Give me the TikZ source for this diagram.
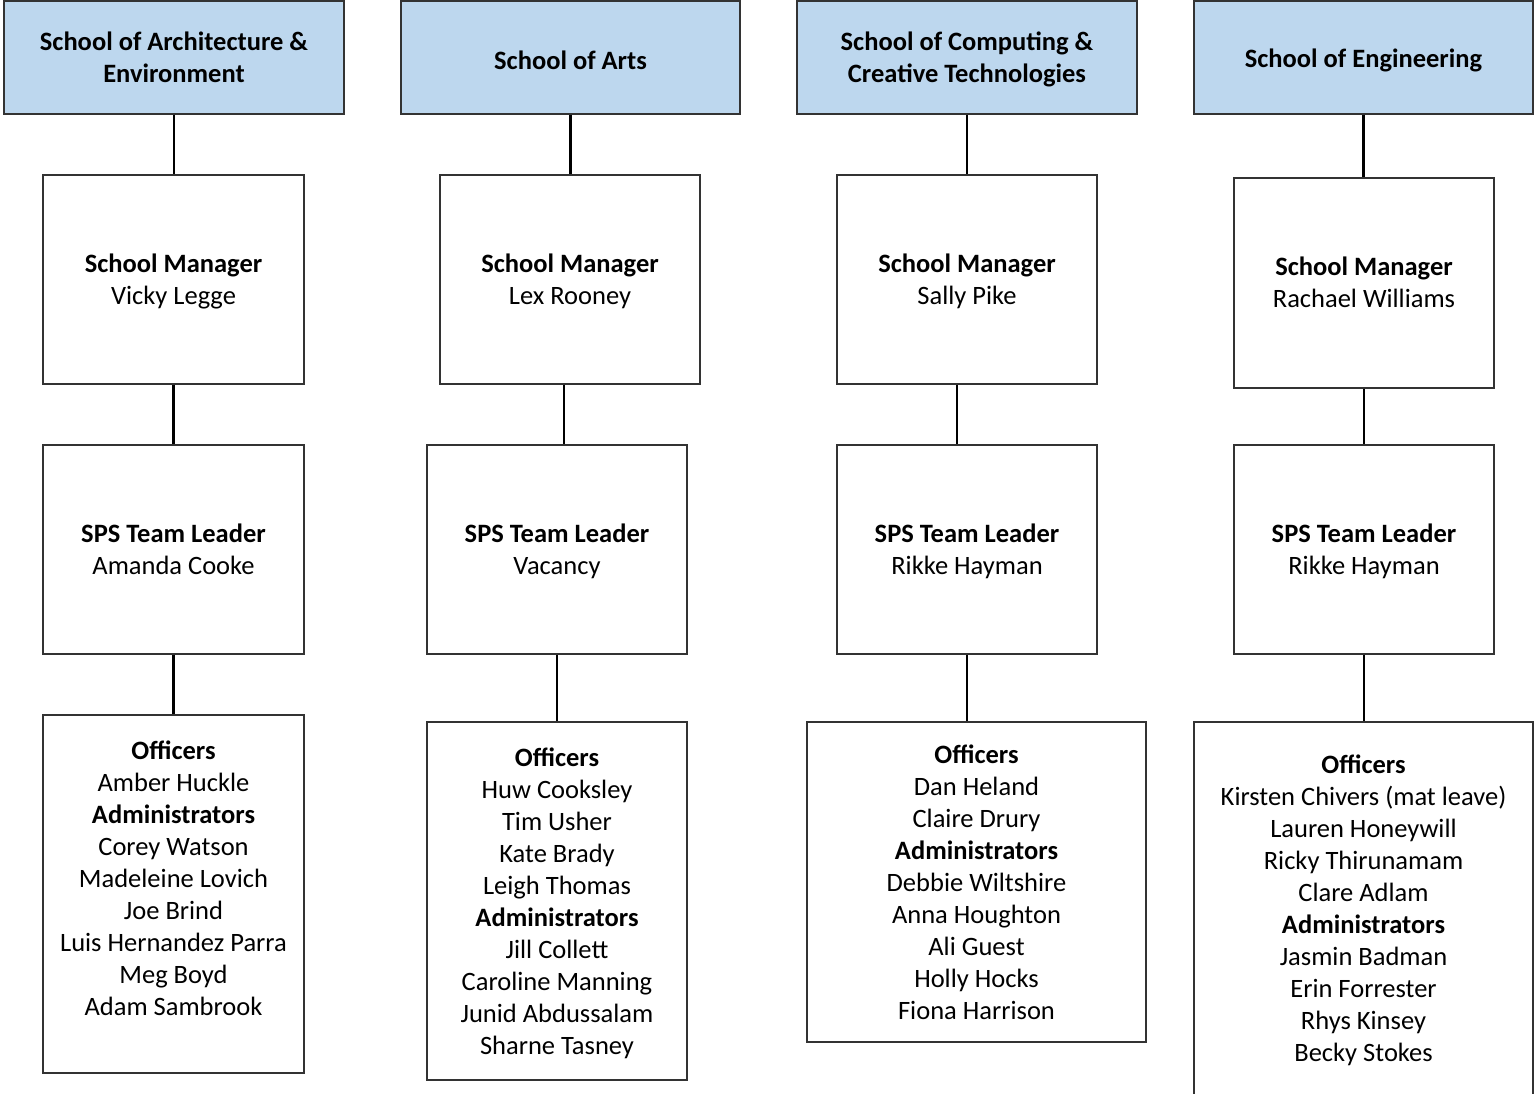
\documentclass[tikz,border=0pt]{standalone}
\usepackage{fontspec}
\setmainfont{Carlito}
\newcommand{\stackl}[1]{\begin{tabular}{@{}c@{}}#1\end{tabular}}
\definecolor{hdrblue}{HTML}{BDD7EE}
\definecolor{edge}{HTML}{333333}
\begin{document}
\begin{tikzpicture}[x=1pt,y=-1pt,
  box/.style={draw=edge, line width=1.3pt, fill=white, inner sep=0pt},
  hdr/.style={box, fill=hdrblue, minimum width=340, minimum height=113},
  mid/.style={box, minimum width=261, minimum height=209},
  txt/.style={inner sep=0pt, yshift=-1.5pt, font=\fontsize{26.5}{32}\selectfont},
  link/.style={draw=black, line width=2.8pt}]
\clip (0,0) rectangle (1534,1094);
\fill[white] (0,0) rectangle (1534,1094);

% ---- School of Architecture & Environment
\node[hdr] (h1) at (174,57.5) {};
\node[txt] (h1t) at (174,59) {\bfseries\stackl{School of Architecture \&\\Environment}};
\node[mid] (sm1) at (173.5,279.5) {};
\node[txt] (sm1t) at (173.5,281) {\stackl{\bfseries School Manager\\Vicky Legge}};
\node[mid] (sps1) at (173.5,549.5) {};
\node[txt] (sps1t) at (173.5,551) {\stackl{\bfseries SPS Team Leader\\Amanda Cooke}};
\node[box, minimum width=261, minimum height=358] (off1) at (173.5,894) {};
\node[txt] (off1t) at (173.5,880) {\stackl{\bfseries Officers\\Amber Huckle\\\bfseries Administrators\\Corey Watson\\Madeleine Lovich\\Joe Brind\\Luis Hernandez Parra\\Meg Boyd\\Adam Sambrook}};

% ---- School of Arts
\node[hdr, minimum width=339] (h2) at (570.5,57.5) {};
\node[txt] (h2t) at (570.5,59) {\bfseries School of Arts};
\node[mid, minimum width=260] (sm2) at (570,279.5) {};
\node[txt] (sm2t) at (570,281) {\stackl{\bfseries School Manager\\Lex Rooney}};
\node[mid, minimum width=260] (sps2) at (557,549.5) {};
\node[txt] (sps2t) at (557,551) {\stackl{\bfseries SPS Team Leader\\Vacancy}};
\node[box, minimum width=260, minimum height=358] (off2) at (557,901) {};
\node[txt] (off2t) at (557,903) {\stackl{\bfseries Officers\\Huw Cooksley\\Tim Usher\\Kate Brady\\Leigh Thomas\\\bfseries Administrators\\Jill Collett\\Caroline Manning\\Junid Abdussalam\\Sharne Tasney}};

% ---- School of Computing & Creative Technologies
\node[hdr] (h3) at (967,57.5) {};
\node[txt] (h3t) at (967,59) {\bfseries\stackl{School of Computing \&\\Creative Technologies}};
\node[mid, minimum width=260] (sm3) at (967,279.5) {};
\node[txt] (sm3t) at (967,281) {\stackl{\bfseries School Manager\\Sally Pike}};
\node[mid, minimum width=260] (sps3) at (967,549.5) {};
\node[txt] (sps3t) at (967,551) {\stackl{\bfseries SPS Team Leader\\Rikke Hayman}};
\node[box, minimum width=339, minimum height=320] (off3) at (976.5,882) {};
\node[txt] (off3t) at (976.5,884) {\stackl{\bfseries Officers\\Dan Heland\\Claire Drury\\\bfseries Administrators\\Debbie Wiltshire\\Anna Houghton\\Ali Guest\\Holly Hocks\\Fiona Harrison}};

% ---- School of Engineering
\node[hdr, minimum width=339] (h4) at (1363.5,57.5) {};
\node[txt] (h4t) at (1363.5,59) {\bfseries School of Engineering};
\node[mid, minimum width=260, minimum height=210] (sm4) at (1364,283) {};
\node[txt] (sm4t) at (1364,284) {\stackl{\bfseries School Manager\\Rachael Williams}};
\node[mid, minimum width=260] (sps4) at (1364,549.5) {};
\node[txt] (sps4t) at (1364,551) {\stackl{\bfseries SPS Team Leader\\Rikke Hayman}};
\node[box, minimum width=339, minimum height=388] (off4) at (1363.5,916) {};
\node[txt] (off4t) at (1363.5,910) {\stackl{\bfseries Officers\\Kirsten Chivers (mat leave)\\Lauren Honeywill\\Ricky Thirunamam\\Clare Adlam\\\bfseries Administrators\\Jasmin Badman\\Erin Forrester\\Rhys Kinsey\\Becky Stokes}};

% ---- reporting lines
\draw[link] (h1.south) -- (h1.south |- sm1.north);
\draw[link] (sm1.south) -- (sm1.south |- sps1.north);
\draw[link] (sps1.south) -- (sps1.south |- off1.north);

\draw[link] (h2.south) -- (h2.south |- sm2.north);
\draw[link] ([xshift=-6]sm2.south) -- ([xshift=7]sps2.north);
\draw[link] (sps2.south) -- (sps2.south |- off2.north);

\draw[link] (h3.south) -- (h3.south |- sm3.north);
\draw[link] ([xshift=-10]sm3.south) -- ([xshift=-10]sps3.north);
\draw[link] (sps3.south) -- (sps3.south |- off3.north);

\draw[link] (h4.south) -- (h4.south |- sm4.north);
\draw[link] (sm4.south) -- (sm4.south |- sps4.north);
\draw[link] (sps4.south) -- (sps4.south |- off4.north);
\end{tikzpicture}
\end{document}
